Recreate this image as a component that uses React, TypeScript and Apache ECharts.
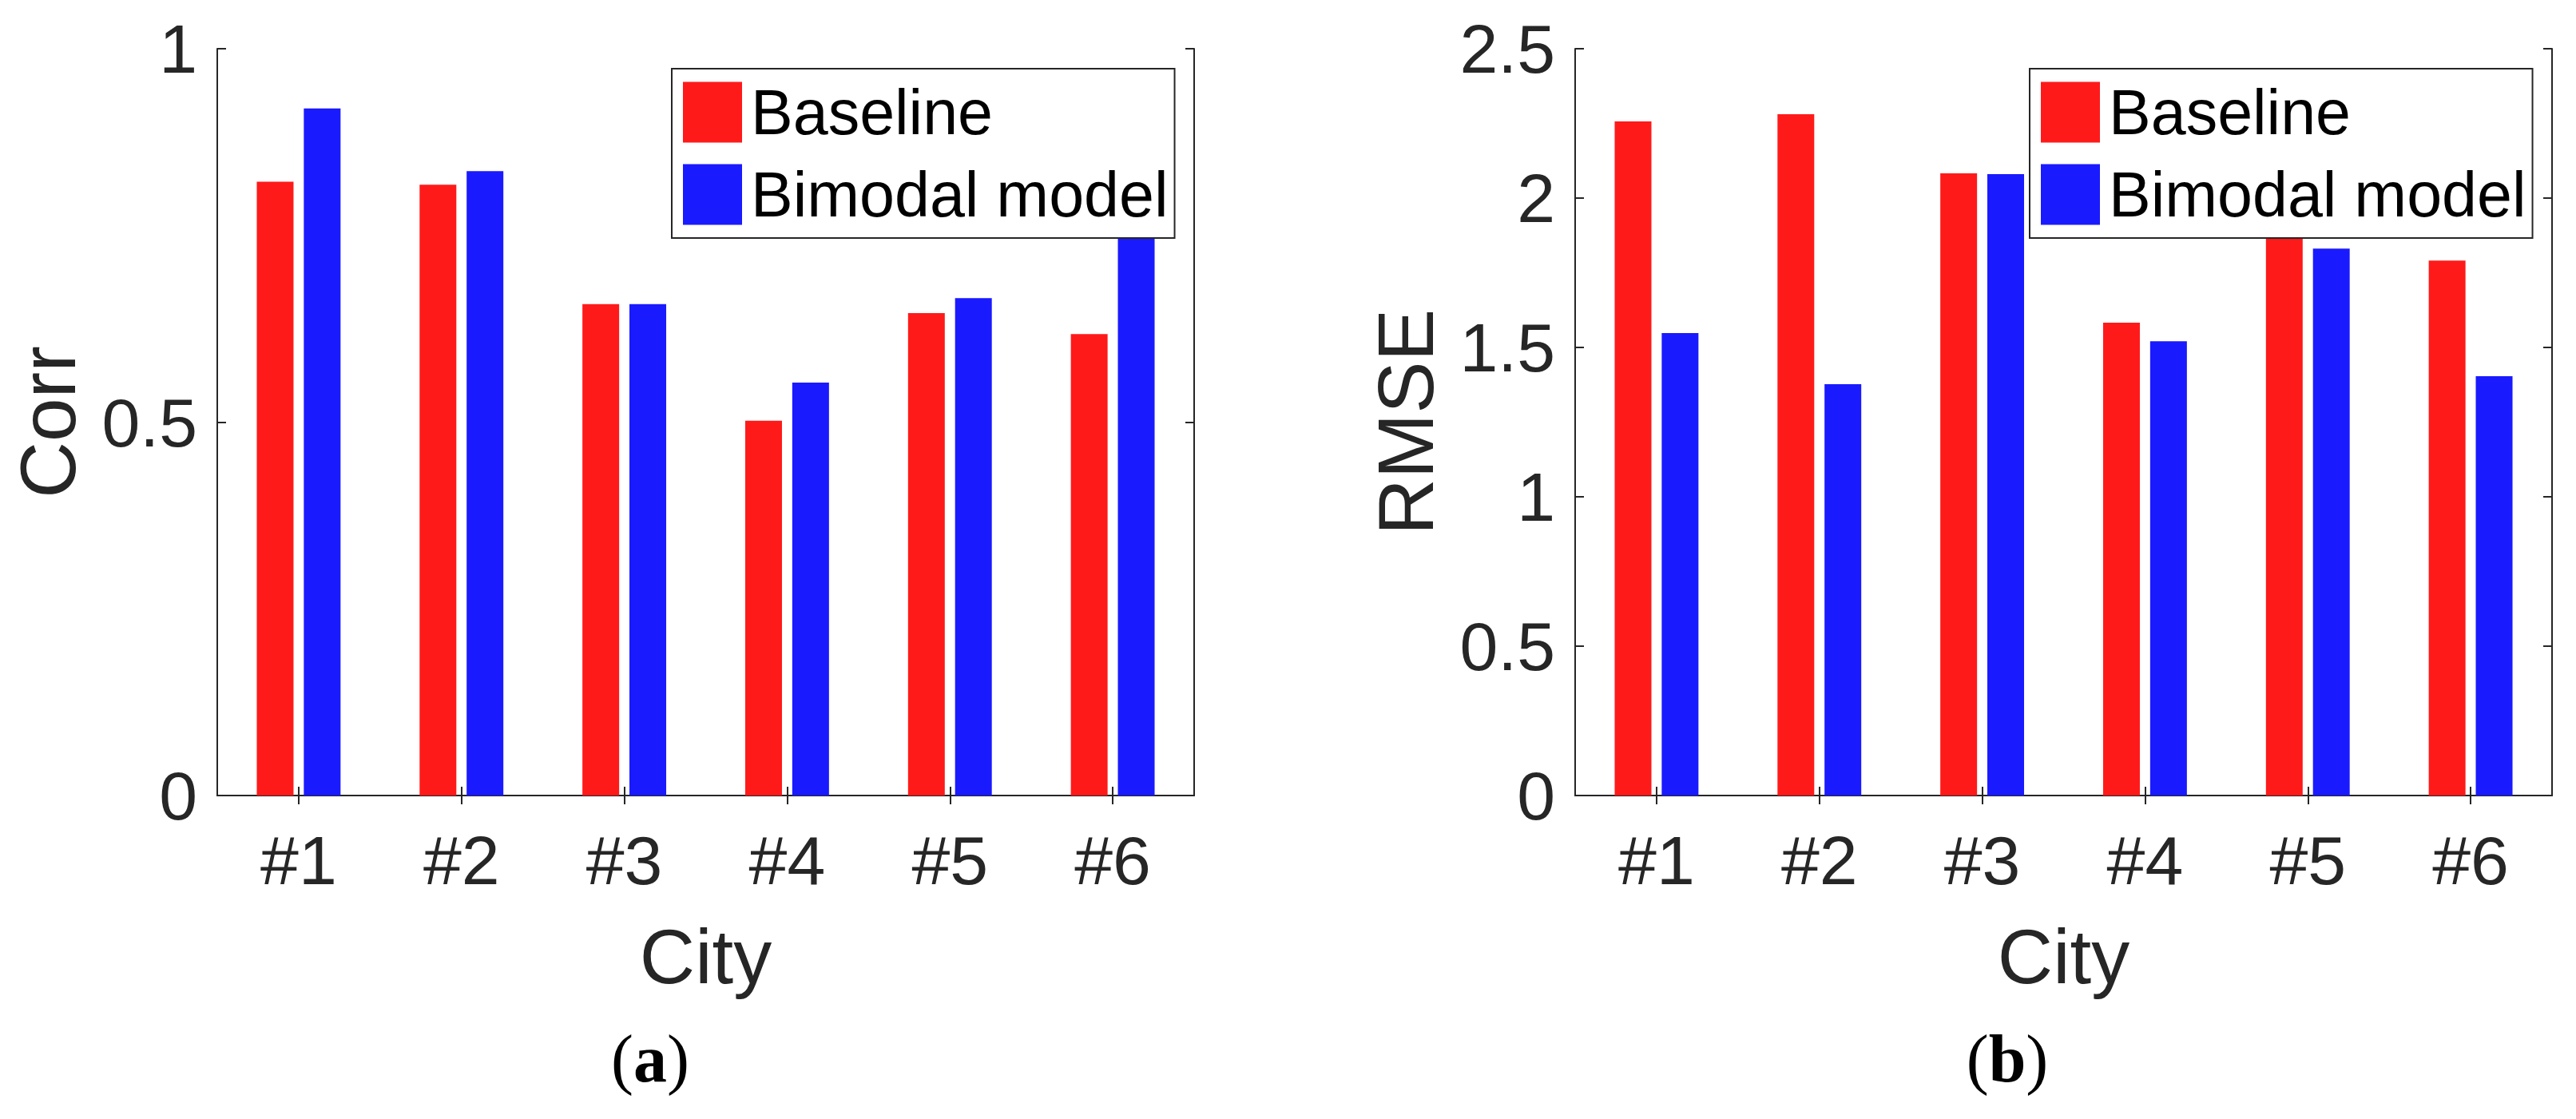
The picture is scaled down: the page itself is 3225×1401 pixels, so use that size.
import React, { useEffect, useRef } from "react";
import * as echarts from "echarts";

const cities = ["#1", "#2", "#3", "#4", "#5", "#6"];
const seriesNames = ["Baseline", "Bimodal model"];
const corrBaseline = [0.822, 0.818, 0.658, 0.502, 0.646, 0.618];
const corrBimodal = [0.92, 0.836, 0.658, 0.553, 0.666, 0.86];
const rmseBaseline = [2.257, 2.281, 2.083, 1.583, 1.93, 1.791];
const rmseBimodal = [1.548, 1.377, 2.08, 1.521, 1.831, 1.404];
const corrAxis = { min: 0, max: 1, interval: 0.5, name: "Corr" };
const rmseAxis = { min: 0, max: 2.5, interval: 0.5, name: "RMSE" };
const panelLabels = ["a", "b"];

const RED = "#ff1a1a";
const BLUE = "#1a1aff";
const AX = "#262626";
const SANS = "Liberation Sans, Arial, sans-serif";
const SERIF = "Liberation Serif, Times New Roman, serif";

export default function App() {
  const ref = useRef<HTMLDivElement>(null);
  useEffect(() => {
    document.body.style.margin = "0";
    const chart = echarts.init(ref.current!, null, { renderer: "svg" });
    const grids = [
      { left: 272, top: 61, width: 1223, height: 935 },
      { left: 1972, top: 61, width: 1223, height: 935 },
    ];
    const axLine = { show: true, lineStyle: { color: AX, width: 2 } };
    const tick = { show: true, inside: true, length: 11, lineStyle: { color: AX, width: 2 } };
    const xAxes: any[] = [];
    const yAxes: any[] = [];
    const yDefs = [corrAxis, rmseAxis];
    [0, 1].forEach((g) => {
      xAxes.push({
        type: "category", gridIndex: g, data: cities, position: "bottom",
        axisLine: axLine, axisTick: { ...tick, alignWithLabel: true },
        axisLabel: { color: AX, fontSize: 86, fontFamily: SANS, margin: 38 },
        name: "City", nameLocation: "middle", nameGap: 153,
        nameTextStyle: { color: AX, fontSize: 96, fontFamily: SANS },
      });
      xAxes.push({
        type: "category", gridIndex: g, data: cities, position: "top",
        axisLine: axLine, axisTick: { ...tick, alignWithLabel: true },
        axisLabel: { show: false },
      });
      const d = yDefs[g];
      yAxes.push({
        type: "value", gridIndex: g, min: d.min, max: d.max, interval: d.interval, position: "left",
        axisLine: axLine, axisTick: tick, splitLine: { show: false },
        axisLabel: { color: AX, fontSize: 86, fontFamily: SANS, margin: 25 },
        name: d.name, nameLocation: "middle", nameGap: 163,
        nameTextStyle: { color: AX, fontSize: 98, fontFamily: SANS },
      });
      yAxes.push({
        type: "value", gridIndex: g, min: d.min, max: d.max, interval: d.interval, position: "right",
        axisLine: axLine, axisTick: tick, splitLine: { show: false },
        axisLabel: { show: false },
      });
    });
    const bar = (name: string, data: number[], color: string, g: number) => ({
      type: "bar", name, data, xAxisIndex: g * 2, yAxisIndex: g * 2,
      barWidth: 46, barGap: "28%", itemStyle: { color }, z: 2,
    });
    const legend = (left: number) => ({
      data: seriesNames, orient: "vertical", left, top: 86,
      padding: [15, 8, 15, 14], itemGap: 24, itemWidth: 74, itemHeight: 76,
      icon: "rect", backgroundColor: "#fff", borderColor: AX, borderWidth: 2,
      selectedMode: false, z: 10,
      textStyle: { color: "#000", fontSize: 79, fontFamily: SANS, padding: [0, 0, 0, 6] },
    });
    const label = (x: number, t: string) => ({
      type: "text", x, y: 1325, z: 10,
      style: {
        text: `{p|(}{b|${t}}{p|)}`, align: "center", verticalAlign: "middle",
        rich: {
          p: { fontFamily: SERIF, fontSize: 84, fill: "#000" },
          b: { fontFamily: SERIF, fontSize: 84, fontWeight: "bold", fill: "#000" },
        },
        fill: "#000", fontFamily: SERIF, fontSize: 84,
      },
    });
    chart.setOption({
      animation: false,
      backgroundColor: "#fff",
      grid: grids,
      xAxis: xAxes,
      yAxis: yAxes,
      legend: [legend(841), legend(2541)],
      series: [
        bar(seriesNames[0], corrBaseline, RED, 0),
        bar(seriesNames[1], corrBimodal, BLUE, 0),
        bar(seriesNames[0], rmseBaseline, RED, 1),
        bar(seriesNames[1], rmseBimodal, BLUE, 1),
      ],
      graphic: [label(814, panelLabels[0]), label(2513, panelLabels[1])],
    });
    return () => chart.dispose();
  }, []);
  return <div ref={ref} style={{ width: 3225, height: 1401 }} />;
}
